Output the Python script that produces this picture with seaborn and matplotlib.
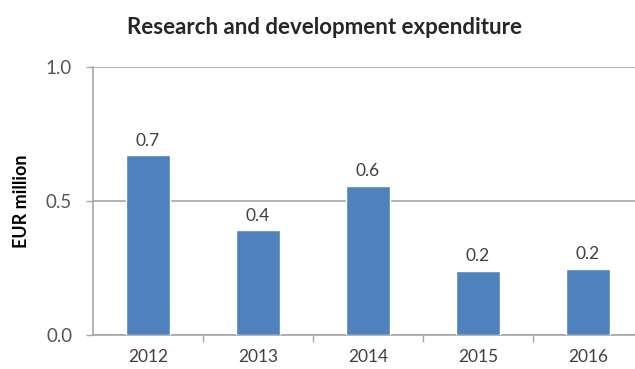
import matplotlib
matplotlib.use("Agg")
import matplotlib.pyplot as plt
import seaborn as sns
import pandas as pd

years = ["2012", "2013", "2014", "2015", "2016"]
expenditure = [0.67, 0.39, 0.556, 0.24, 0.246]  # EUR million

df = pd.DataFrame({"year": years, "value": expenditure})

sns.set_theme(style="white")
plt.rcParams["font.family"] = ["Lato", "DejaVu Sans"]

fig = plt.figure(figsize=(6.35, 3.69), dpi=100)
ax = fig.add_axes([93 / 635, 1 - 335 / 369, 550 / 635, 268 / 369])

sns.barplot(data=df, x="year", y="value", color="#4F81BD", width=0.4,
            saturation=1, ax=ax, zorder=3)

ax.set_xlim(-0.5, 4.5)
ax.set_ylim(0, 1.0)
ax.set_yticks([0.0, 0.5, 1.0])
ax.set_yticklabels([f"{t:.1f}" for t in [0.0, 0.5, 1.0]], fontsize=13.5, color="#555555")
ax.yaxis.grid(True, color="#A6A6A6", linewidth=1.2, zorder=0)

# category boundary ticks on the x axis
ax.set_xticks([i + 0.5 for i in range(len(years) - 1)], minor=True)
ax.tick_params(axis="x", which="major", length=0, labelsize=12.5, labelcolor="#404040", pad=10)
ax.tick_params(axis="x", which="minor", length=5, width=1, color="#A6A6A6", direction="out", bottom=True)
ax.tick_params(axis="y", length=5, width=1, color="#A6A6A6", direction="out", left=True, pad=10)

for s in ["top", "right"]:
    ax.spines[s].set_visible(False)
for s in ["left", "bottom"]:
    ax.spines[s].set_color("#A6A6A6")
    ax.spines[s].set_linewidth(1.2)

for i, v in enumerate(expenditure):
    ax.text(i, v + 0.025, f"{v:.1f}", ha="center", va="bottom", fontsize=12.5, color="#404040")

ax.set_xlabel("")
ax.set_ylabel("")
fig.text(22 / 635, 1 - 201 / 369, "EUR million", rotation=90, ha="center", va="center",
         fontsize=13, fontweight="bold", color="#000000")
fig.text(324 / 635, 1 - 28 / 369, "Research and development expenditure",
         ha="center", va="center", fontsize=16, fontweight="bold", color="#262626")

fig.savefig("out.png", dpi=100)
